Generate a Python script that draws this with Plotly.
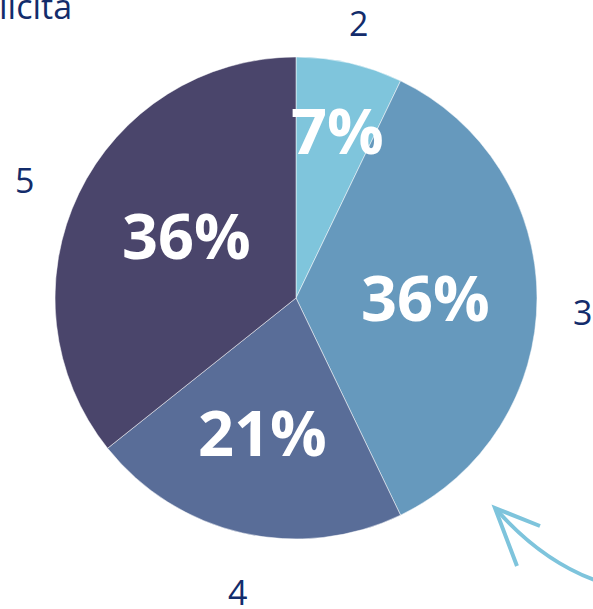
import math
import plotly.graph_objects as go

# ---- data ----
categories = ["2", "3", "4", "5"]
values = [1, 5, 3, 5]
title_text = "licita"

# ---- styles / placement ----
colors = ["#7FC5DC", "#6699BD", "#596D98", "#4A456B"]
navy = "#132C6B"
W, H = 593, 609
cx, cy, R = 296, 298, 241            # pie centre / radius in pixels
pct_radius = [168, 130, 143, 124]    # distance of percent labels from centre
pct_turn = [1.5, 1.8, 0.5, 2.1]      # small angular nudge (deg) of percent labels
lab_radius = [282, 287, 300, 296]    # distance of category labels from centre
lab_turn = [0.0, 2.8, -1.6, -2.2]    # small angular nudge (deg) of category labels

fig = go.Figure()
fig.add_trace(go.Pie(
    labels=categories,
    values=values,
    sort=False,
    direction="clockwise",
    rotation=0,
    marker=dict(colors=colors, line=dict(color="white", width=0.5)),
    textinfo="none",
    showlegend=False,
    hoverinfo="label+percent",
    domain=dict(x=[(cx - R) / W, (cx + R) / W],
                y=[(H - cy - R) / H, (H - cy + R) / H]),
))

total = sum(values)
ann = []
acc = 0
for i, (lab, v) in enumerate(zip(categories, values)):
    mid = (acc + v / 2) / total * 2 * math.pi
    acc += v
    # percent label inside the slice
    a = mid + math.radians(pct_turn[i])
    rp = pct_radius[i]
    px, py = cx + rp * math.sin(a), cy - rp * math.cos(a)
    ann.append(dict(x=px / W, y=1 - py / H, xref="paper", yref="paper",
                    text=f"{round(v / total * 100)}%", showarrow=False,
                    xanchor="center", yanchor="middle", yshift=6,
                    font=dict(family="Open Sans", size=63, color="white", weight="bold")))
    # category label outside the pie
    a = mid + math.radians(lab_turn[i])
    rl = lab_radius[i]
    px, py = cx + rl * math.sin(a), cy - rl * math.cos(a)
    ann.append(dict(x=px / W, y=1 - py / H, xref="paper", yref="paper",
                    text=lab, showarrow=False, xanchor="center", yanchor="middle",
                    font=dict(family="Open Sans", size=34, color=navy)))

ann.append(dict(x=0, y=1, xref="paper", yref="paper", text=title_text,
                showarrow=False, xanchor="left", yanchor="top", yshift=19, xshift=-3,
                font=dict(family="Open Sans", size=34, color=navy)))

def P(x, y):
    return f"{x / W:.4f},{1 - y / H:.4f}"

arrow_color = "#7EC4DC"
shapes = [
    dict(type="path", xref="paper", yref="paper",
         path=f"M {P(600, 582)} C {P(565, 570)} {P(530, 548)} {P(496, 509)}",
         line=dict(color=arrow_color, width=4)),
    dict(type="path", xref="paper", yref="paper",
         path=f"M {P(517, 566)} L {P(495, 508)} L {P(540, 526)}",
         line=dict(color=arrow_color, width=4)),
]

fig.update_layout(
    width=W, height=H,
    margin=dict(l=0, r=0, t=0, b=0),
    paper_bgcolor="white", plot_bgcolor="white",
    annotations=ann,
    shapes=shapes,
)

fig.write_html("out.html",
               config={"displayModeBar": False},
               post_script="document.body.style.margin='0';")
